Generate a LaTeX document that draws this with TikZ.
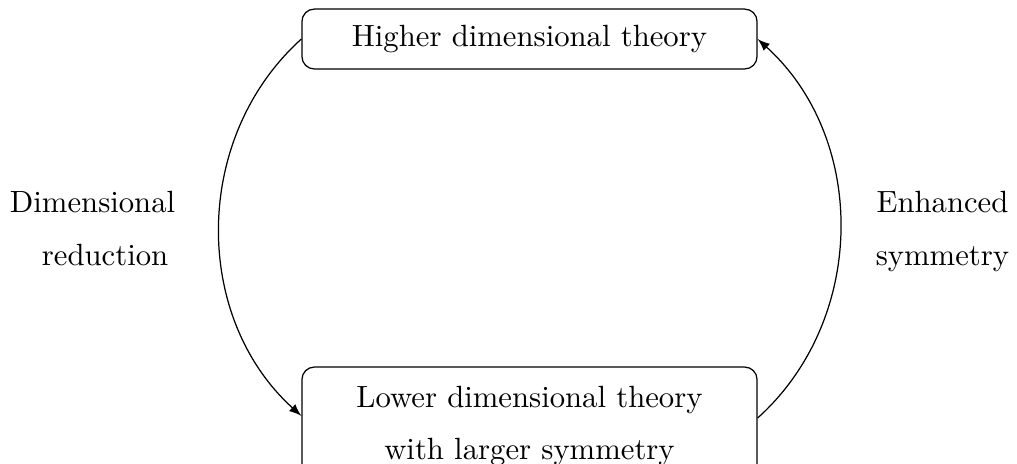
\documentclass[tikz,border=0pt]{standalone}
\usetikzlibrary{positioning}
\begin{document}
\begin{tikzpicture}[x=0.3257pt,y=-0.3257pt,
  theorybox/.style={draw,rounded corners,minimum width=148.2pt,inner sep=0pt,align=center,font=\fontsize{10}{17.2}\selectfont},
  sidetext/.style={inner sep=0pt,font=\fontsize{10}{17}\selectfont},
  conn/.style={-latex}]
\useasboundingbox (0,0) rectangle (1017,463);
\node[theorybox,minimum height=19.5pt] (top) at (529.5,39) {Higher dimensional theory};
\node[theorybox,minimum height=38.4pt] (bot) at (529.5,426) {Lower dimensional theory\\with larger symmetry};
\node[sidetext,align=left] (left) at (92.6,228.5) {Dimensional\\\hspace*{10.4pt}reduction};
\node[sidetext,align=center] (right) at (942.5,231.4) {Enhanced\\symmetry};
\draw[conn] (top.west) to[bend right=48] ([yshift=3.3pt]bot.west);
\draw[conn] ([yshift=2.6pt]bot.east) to[bend right=48] (top.east);
\end{tikzpicture}
\end{document}
